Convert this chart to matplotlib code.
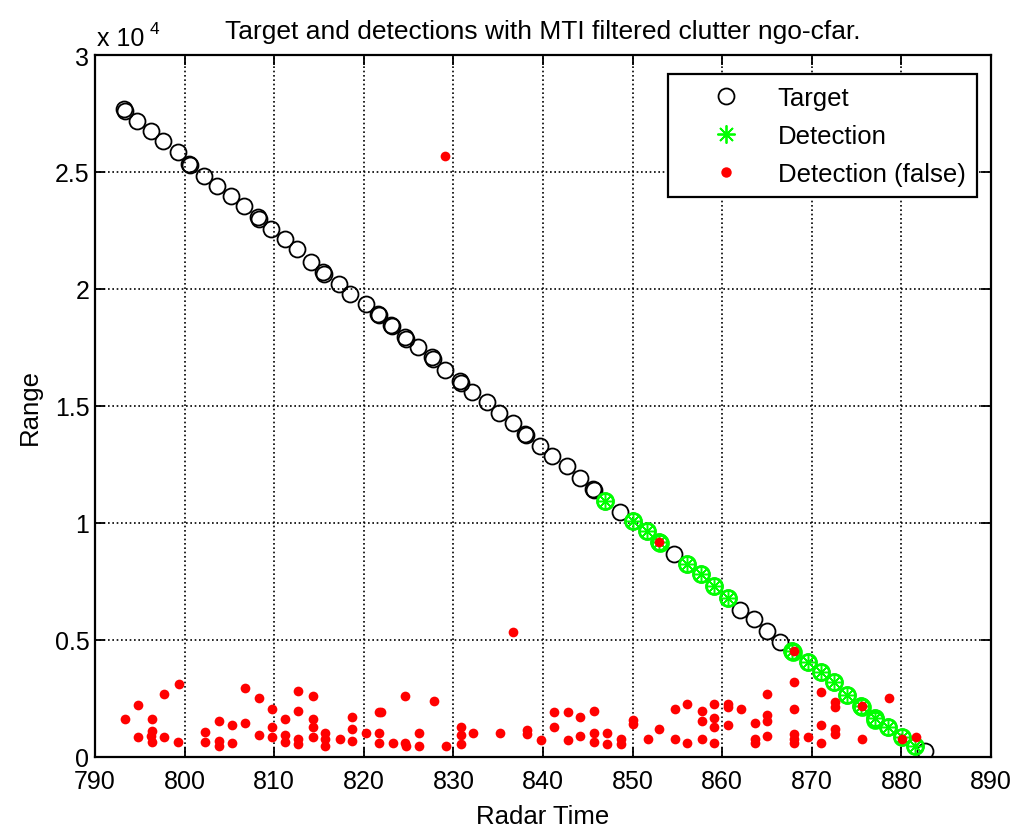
import matplotlib
matplotlib.use('Agg')
import matplotlib.pyplot as plt
from matplotlib.lines import Line2D

plt.rcParams['font.family'] = ['Liberation Sans', 'DejaVu Sans']

# ---------------- data ----------------
title_text = "Target and detections with MTI filtered clutter ngo-cfar."
x_label = "Radar Time"
y_label = "Range"
legend_labels = ["Target", "Detection", "Detection (false)"]

target_time = [793.2, 794.7, 796.3, 797.6, 799.3, 800.5, 802.2, 803.6, 805.2, 806.6,
               808.2, 809.6, 811.2, 812.5, 814.1, 815.5, 817.2, 818.5, 820.2, 821.6,
               823.0, 824.6, 826.1, 827.6, 829.1, 830.7, 832.1, 833.7, 835.1, 836.7,
               838.0, 839.7, 841.0, 842.7, 844.1, 845.6, 846.9, 848.6, 850.0, 851.6,
               853.0, 854.6, 856.1, 857.6, 859.1, 860.6, 862.0, 863.5, 865.0, 866.4,
               867.8, 869.6, 871.0, 872.5, 873.9, 875.5, 877.0, 878.5, 880.1, 881.5,
               882.6]
target_range = [27690, 27190, 26770, 26340, 25840, 25340, 24840, 24420, 23990, 23530,
                23060, 22560, 22140, 21710, 21170, 20710, 20210, 19790, 19360, 18930,
                18460, 17930, 17510, 17080, 16550, 16080, 15610, 15160, 14700, 14270,
                13800, 13300, 12880, 12450, 11910, 11450, 10920, 10470, 10090, 9660,
                9190, 8680, 8250, 7820, 7310, 6800, 6280, 5900, 5380, 4910,
                4520, 4050, 3620, 3190, 2650, 2170, 1650, 1270, 840, 480,
                270]

# repeated target samples (drawn twice, appear bold)
target_rep_time = [793.3, 800.6, 808.3, 815.6, 821.7, 823.1, 824.7, 827.7, 830.8, 838.1, 845.7]
target_rep_range = [27600, 25280, 23000, 20650, 18880, 18400, 17870, 17020, 16000, 13740, 11390]

det_time = [846.9, 850.0, 851.6, 853.0, 856.1, 857.6, 859.1, 860.6, 867.8, 869.6,
            871.0, 872.5, 873.9, 875.5, 877.0, 878.5, 880.1, 881.5]
det_range = [10920, 10090, 9660, 9190, 8250, 7820, 7310, 6800, 4520, 4050,
             3620, 3190, 2650, 2170, 1650, 1270, 840, 480]
det_rep_time = [853.1, 867.9, 875.6, 877.1]
det_rep_range = [9140, 4470, 2120, 1600]

false_time = [
    799.4, 797.7, 794.8, 793.4, 796.4, 796.4, 796.3, 794.8, 796.4, 797.7, 799.3,
    802.3, 802.3, 803.8, 803.8, 803.8, 805.3, 805.3, 806.7, 806.7, 808.3, 808.3,
    809.7, 809.7, 809.7, 811.2, 811.2, 811.2, 812.7, 812.7, 812.7, 812.7,
    814.3, 814.3, 814.3, 814.3, 815.7, 815.7, 815.7, 817.3, 818.7, 818.7, 818.7,
    820.3, 821.7, 821.9, 821.7, 821.7, 823.3, 824.6, 824.6, 824.7, 826.2, 826.2,
    827.8, 829.2, 830.8, 830.8, 830.8, 832.2, 835.2, 838.2, 838.2, 839.8,
    841.2, 841.2, 842.8, 842.8, 844.1, 844.1, 845.7, 845.7, 845.7, 847.1, 847.1,
    848.7, 848.7, 850.1, 850.1, 851.7, 853.0, 854.7, 854.7, 856.1, 856.1,
    857.7, 857.7, 857.7, 859.1, 859.1, 859.1, 859.1, 860.7, 860.7, 860.7, 862.1,
    863.7, 863.7, 863.7, 865.0, 865.0, 865.0, 865.0,
    868.0, 868.0, 868.0, 868.0, 868.0, 868.0, 869.6, 871.0, 871.0, 871.0,
    872.6, 872.6, 872.6, 872.6, 875.6, 875.6, 878.6, 880.1, 881.6,
    829.1, 836.7, 853.0]
false_range = [
    3120, 2690, 2240, 1620, 1620, 1120, 900, 840, 630, 840, 630,
    1050, 630, 1550, 700, 460, 1370, 600, 2940, 1450, 2510, 940,
    2050, 1270, 840, 1620, 940, 650, 2830, 1980, 770, 560,
    2590, 1620, 1270, 840, 1030, 770, 480, 770, 1720, 1200, 670,
    1030, 1910, 1910, 1030, 590, 590, 2620, 590, 480, 1030, 480,
    2410, 480, 1270, 940, 560, 1030, 1030, 1150, 1000, 730,
    1910, 1270, 1910, 730, 1700, 910, 1980, 1030, 650, 1030, 560,
    780, 560, 1600, 1420, 770, 1200, 2050, 770, 2260, 600,
    1980, 1550, 770, 2260, 1650, 1270, 600, 2260, 2150, 1370, 2050,
    1450, 770, 600, 2690, 1790, 1550, 910,
    4520, 3220, 2050, 980, 770, 600, 840, 2760, 1370, 600,
    2340, 2140, 1200, 1000, 2170, 770, 2510, 770, 840,
    25680, 5340, 9190]

x_ticks = [790, 800, 810, 820, 830, 840, 850, 860, 870, 880, 890]
y_ticks = [0, 5000, 10000, 15000, 20000, 25000, 30000]
y_tick_labels = ["0", "0.5", "1", "1.5", "2", "2.5", "3"]
exponent_base = "x 10"
exponent_power = "4"

# ---------------- drawing ----------------
W, H = 1015, 829
fig = plt.figure(figsize=(W / 100, H / 100), dpi=100)
ax_l, ax_r, ax_t, ax_b = 95, 991, 56, 758
ax = fig.add_axes([ax_l / W, 1 - ax_b / H, (ax_r - ax_l) / W, (ax_b - ax_t) / H])

GREEN = '#00ff00'
circ = dict(marker='o', ls='none', mfc='none', ms=11.5)
ax.plot(target_time, target_range, mec='black', mew=1.3, zorder=3, **circ)
ax.plot(target_rep_time, target_rep_range, mec='black', mew=1.3, zorder=3, **circ)
ax.plot(det_time, det_range, mec=GREEN, mew=2.0, zorder=4, **circ)
ax.plot(det_rep_time, det_rep_range, mec=GREEN, mew=2.0, zorder=4, **circ)
ax.plot(det_time, det_range, marker=(8, 2, 0), ls='none', color=GREEN, ms=10, mew=1.1, zorder=4)
ax.plot(false_time, false_range, marker='o', ls='none', color='red', ms=7, mew=0, zorder=5)

ax.set_xlim(790, 890)
ax.set_ylim(0, 30000)
ax.set_xticks(x_ticks)
ax.set_yticks(y_ticks)
ax.set_yticklabels(y_tick_labels)
ax.tick_params(direction='in', top=True, right=True, length=7, width=1.3,
               labelsize=18, colors='black')
ax.tick_params(axis='x', pad=9)
ax.tick_params(axis='y', pad=4)
ax.grid(True, color='black', lw=1.2, ls=(0, (1, 1.6)))
for s in ax.spines.values():
    s.set_linewidth(1.6)
    s.set_color('black')

ax.set_title(title_text, fontsize=19, pad=12)
ax.set_xlabel(x_label, fontsize=18.5)
ax.set_ylabel(y_label, fontsize=18.5)
ax.xaxis.set_label_coords(0.5, (ax_b - 805) / (ax_b - ax_t))
ax.yaxis.set_label_coords((42 - ax_l) / (ax_r - ax_l), 0.5)

fig.text(97 / W, 1 - 46 / H, exponent_base, fontsize=18, ha='left', va='baseline')
fig.text(150 / W, 1 - 34 / H, exponent_power, fontsize=12.5, ha='left', va='baseline')

handles = [
    Line2D([], [], marker='o', ls='none', mfc='none', mec='black', ms=11.5, mew=1.3),
    Line2D([], [], marker=(8, 2, 0), ls='none', color=GREEN, ms=13, mew=1.3),
    Line2D([], [], marker='o', ls='none', color='red', ms=7.5, mew=0),
]
leg = ax.legend(handles, legend_labels, loc='upper right',
                bbox_to_anchor=((977 - ax_l) / (ax_r - ax_l), (ax_b - 75) / (ax_b - ax_t)),
                frameon=True, fancybox=False, edgecolor='black', framealpha=1,
                borderaxespad=0, fontsize=18.5, borderpad=0.45, handlelength=3.55,
                handletextpad=0.25, labelspacing=0.55)
leg.get_frame().set_linewidth(1.6)

fig.savefig('out.png', dpi=100)
